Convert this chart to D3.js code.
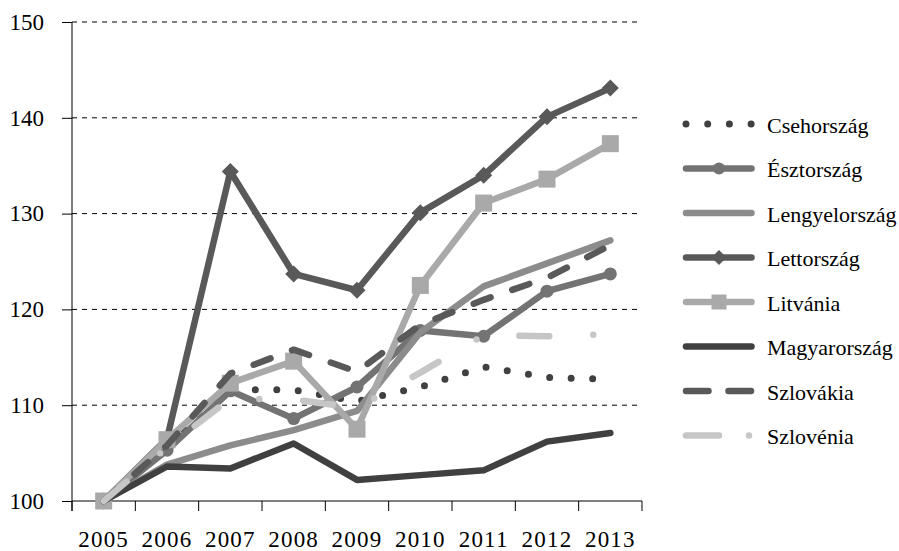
<!DOCTYPE html>
<html>
<head>
<meta charset="utf-8">
<script src="https://cdn.jsdelivr.net/npm/d3@7"></script>
<style>
  html, body { margin: 0; padding: 0; background: #fff; }
  svg { display: block; }
  svg text { font-family: "Liberation Serif", "Times New Roman", Times, "DejaVu Serif", serif !important; fill: #000; }
</style>
</head>
<body>
<svg id="chart" width="899" height="551"></svg>
<script>
const years = ["2005","2006","2007","2008","2009","2010","2011","2012","2013"];
const yTicks = [100, 110, 120, 130, 140, 150];

const csehorszag    = [100, 106.0, 111.6, 111.6, 110.4, 111.9, 114.0, 112.9, 112.7];
const esztorszag    = [100, 105.3, 111.5, 108.6, 111.9, 117.8, 117.2, 121.9, 123.7];
const lengyelorszag = [100, 103.8, 105.8, 107.4, 109.4, 117.6, 122.4, 124.8, 127.2];
const lettorszag    = [100, 106.5, 134.4, 123.7, 122.0, 130.1, 134.0, 140.1, 143.1];
const litvania      = [100, 106.4, 112.3, 114.6, 107.5, 122.5, 131.1, 133.6, 137.3];
const magyarorszag  = [100, 103.6, 103.4, 106.0, 102.2, 102.7, 103.2, 106.2, 107.1];
const szlovakia     = [100, 105.8, 113.3, 115.8, 113.5, 118.4, 121.0, 123.3, 126.7];
const szlovenia     = [100, 105.6, 110.7, 110.6, 109.7, 113.4, 117.3, 117.2, 117.4];

const seriesNames = ["Csehország","Észtország","Lengyelország","Lettország","Litvánia","Magyarország","Szlovákia","Szlovénia"];
const seriesValues = [csehorszag, esztorszag, lengyelorszag, lettorszag, litvania, magyarorszag, szlovakia, szlovenia];

const styles = {
  "Csehország":    {color:"#404040", dash:"0,21.5", legendDash:"0,21.7", marker:null},
  "Észtország":    {color:"#737373", dash:null, legendDash:null, marker:"circle"},
  "Lengyelország": {color:"#8c8c8c", dash:null, legendDash:null, marker:null},
  "Lettország":    {color:"#595959", dash:null, legendDash:null, marker:"diamond"},
  "Litvánia":      {color:"#a9a9a9", dash:null, legendDash:null, marker:"square"},
  "Magyarország":  {color:"#404040", dash:null, legendDash:null, marker:null},
  "Szlovákia":     {color:"#595959", dash:"18,23", legendDash:"22.5,20", marker:null},
  "Szlovénia":     {color:"#c6c6c6", dash:"30,44,0,44", legendDash:"33,30,0,40", marker:null}
};

const FONT = '"Liberation Serif", "Times New Roman", Times, "DejaVu Serif", serif';

const svg = d3.select("#chart");
const plot = {left:72, right:642, top:22, bottom:501};
const x = d3.scaleBand().domain(years).range([plot.left, plot.right]).padding(0);
const y = d3.scaleLinear().domain([100,150]).range([plot.bottom, plot.top]);
const cx = d => x(d) + x.bandwidth()/2;

// gridlines
svg.append("g").selectAll("line").data(yTicks.filter(t => t > 100)).join("line")
  .attr("x1", plot.left).attr("x2", plot.right)
  .attr("y1", d => y(d)).attr("y2", d => y(d))
  .attr("stroke", "#000").attr("stroke-width", 1).attr("stroke-dasharray", "5,5");

// y axis
const yAxis = svg.append("g").attr("transform", `translate(${plot.left},0)`)
  .call(d3.axisLeft(y).tickValues(yTicks).tickSize(10).tickPadding(18).tickFormat(d3.format("d")));
yAxis.attr("font-family", null).attr("font-size", null);
yAxis.select(".domain").remove();
yAxis.selectAll("line").attr("stroke", "#000");
yAxis.selectAll("text").style("font-family", FONT).style("font-size", "23px").attr("fill", "#000");
svg.append("line").attr("x1", plot.left).attr("x2", plot.left).attr("y1", plot.top).attr("y2", plot.bottom + 10).attr("stroke", "#000");

// x axis
const xAxis = svg.append("g").attr("transform", `translate(0,${plot.bottom})`)
  .call(d3.axisBottom(x).tickSize(0).tickPadding(29.5));
xAxis.attr("font-family", null).attr("font-size", null);
xAxis.select(".domain").remove();
xAxis.selectAll("text").style("font-family", FONT).style("font-size", "23px").style("letter-spacing", "1.2px").attr("fill", "#000");
svg.append("line").attr("x1", plot.left).attr("x2", plot.right).attr("y1", plot.bottom).attr("y2", plot.bottom).attr("stroke", "#000");
const edges = years.map(d => x(d)).concat([x(years[years.length-1]) + x.bandwidth()]);
svg.append("g").selectAll("line").data(edges).join("line")
  .attr("x1", d => d).attr("x2", d => d).attr("y1", plot.bottom).attr("y2", plot.bottom + 10).attr("stroke", "#000");

const line = d3.line().x((d,i) => cx(years[i])).y(d => y(d));
const SW = 6.5;

function drawMarker(g, type, px, py, color, size) {
  if (type === "circle") {
    g.append("circle").attr("cx", px).attr("cy", py).attr("r", size/2).attr("fill", color);
  } else if (type === "diamond") {
    const s = size*0.5;
    g.append("path").attr("d", `M${px},${py-s}L${px+s},${py}L${px},${py+s}L${px-s},${py}Z`).attr("fill", color);
  } else if (type === "square") {
    const s = size*0.5;
    g.append("rect").attr("x", px-s).attr("y", py-s).attr("width", 2*s).attr("height", 2*s).attr("fill", color);
  }
}

const g = svg.append("g");
seriesNames.forEach((name, si) => {
  const st = styles[name];
  const vals = seriesValues[si];
  const sg = g.append("g");
  const p = sg.append("path").attr("d", line(vals)).attr("fill", "none")
    .attr("stroke", st.color).attr("stroke-width", name === "Csehország" ? 7 : SW)
    .attr("stroke-linecap", "round").attr("stroke-linejoin", "round");
  if (st.dash) p.attr("stroke-dasharray", st.dash);
  if (st.marker) {
    vals.forEach((v, i) => drawMarker(sg, st.marker, cx(years[i]), y(v), st.color, st.marker === "circle" ? 13 : 17));
  }
});

// legend
const lg = svg.append("g");
seriesNames.forEach((name, i) => {
  const st = styles[name];
  const ly = 124 + i * 44.5;
  const l = lg.append("line").attr("x1", 686).attr("x2", 751.5).attr("y1", ly).attr("y2", ly)
    .attr("stroke", st.color).attr("stroke-width", name === "Csehország" ? 7 : SW).attr("stroke-linecap", "round");
  if (st.legendDash) l.attr("stroke-dasharray", st.legendDash);
  if (st.marker) drawMarker(lg, st.marker, 719, ly, st.color, st.marker === "circle" ? 12 : 15);
  lg.append("text").attr("x", 767).attr("y", ly + 8.5).style("font-family", FONT).style("font-size", "22px").text(name);
});
</script>
</body>
</html>
